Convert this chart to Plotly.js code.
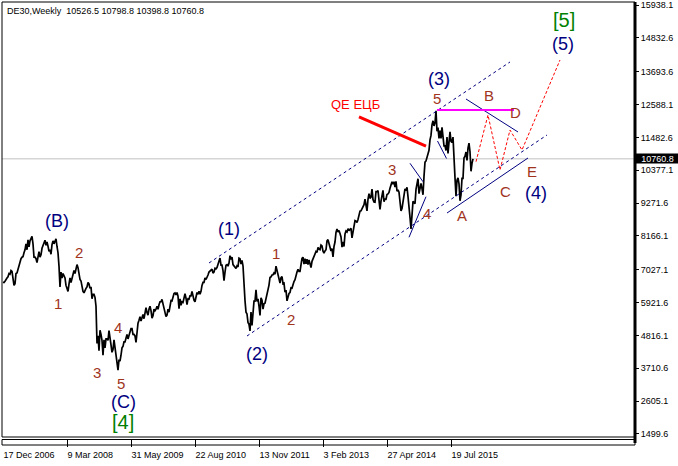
<!DOCTYPE html>
<html><head><meta charset="utf-8">
<script src="https://cdn.plot.ly/plotly-3.0.1.min.js"></script>
<style>html,body{margin:0;padding:0;background:#fff;} #chart{width:678px;height:466px;}</style>
</head><body><div id="chart"></div>
<script>
const symbolTitle = 'DE30,Weekly \u00a010526.5 10798.8 10398.8 10760.8';
const lastPrice = 10760.8;
const tickDates = ['17 Dec 2006','9 Mar 2008','31 May 2009','22 Aug 2010','13 Nov 2011','3 Feb 2013','27 Apr 2014','19 Jul 2015'];
const tickBars = [0, 64, 128, 192, 256, 320, 384, 448];
const priceTicks = [15938.1, 14832.6, 13693.6, 12588.1, 11482.6, 10377.1, 9271.6, 8166.1, 7027.1, 5921.6, 4816.1, 3710.6, 2605.1, 1499.6];

// weekly closes, one per bar, bar 0 = week of 17 Dec 2006
const close2006 = [6610, 6597];
const close2007 = [6640,6730,6750,6790,6900,6880,7000,6970,6640,6500,
  6560,6900,6920,7060,7200,7320,7400,7450,7470,7600,
  7700,7900,7700,8030,7800,8000,8080,8150,7900,7450,
  7450,7400,7270,7560,7640,7450,7530,7750,7860,7950,
  8020,7850,7960,7820,7650,7700,7550,7870,8000,7900,
  8000,8070];
const close2008 = [7810,7600,7150,6450,6950,6750,6900,6800,6750,6500,
  6400,6300,6540,6750,6600,6720,6800,7000,6900,7100,
  7200,7100,6850,6700,6650,6400,6300,6250,6350,6400,
  6450,6600,6550,6400,6450,6050,6200,6200,6100,5800,
  4550,4800,4300,4990,4850,4650,4150,4670,4400,4700,
  4700,4650];
const close2009 = [4980,4800,4500,4250,4340,4670,4450,4200,3850,3650,
  4000,3950,4150,4400,4450,4600,4600,4800,4850,4700,
  4850,4950,5050,5050,4850,4850,4800,4580,5000,5230,
  5330,5450,5300,5450,5520,5380,5550,5750,5590,5500,
  5700,5800,5650,5400,5480,5700,5650,5700,5800,5700,
  5850,5950];
const close2010 = [5950,6030,5880,5700,5600,5450,5500,5700,5600,5880,
  5990,5980,6120,6230,6250,6180,6260,6140,5720,6050,
  5830,5950,5930,6050,6220,6070,5850,6050,6040,6150,
  6150,6300,6110,6000,5950,6150,6260,6200,6300,6200,
  6300,6500,6600,6600,6750,6700,6820,6850,6950,6980,
  7000,7050];
const close2011 = [6914,6950,7080,7060,7100,7220,7370,7420,7180,7180,
  7000,6660,6950,7180,7200,7150,7250,7500,7380,7450,
  7200,7160,7100,7070,7160,7120,7420,7400,7220,7340,
  7160,6240,5990,5600,5540,5250,5190,4970,5600,5150,
  5680,5970,5970,6350,5960,6050,5800,5490,6080,6000,
  5700,5880,5900];
const close2012 = [6060,6140,6400,6510,6770,6790,6850,6860,6920,6880,
  7150,6990,6950,6780,6580,6760,6800,6560,6580,6270,
  6340,5980,6130,6230,6260,6420,6410,6560,6630,6690,
  6870,6950,7040,6970,6970,7210,7410,7450,7220,7400,
  7230,7380,7200,7360,7160,7100,7310,7400,7520,7590,
  7640,7610];
const close2013 = [7780,7720,7700,7860,7830,7650,7590,7660,7700,8000,
  8040,7910,7800,7660,7740,7460,7810,7960,8280,8400,
  8300,8350,8250,8130,7790,7960,7810,8230,8330,8300,
  8410,8340,8390,8420,8100,8280,8510,8680,8660,8620,
  8720,8870,9000,9010,9080,9170,9220,9400,9170,9010,
  9400,9590];
const close2014 = [9430,9470,9740,9390,9310,9300,9660,9660,9690,9350,
  9060,9340,9590,9700,9320,9410,9400,9560,9580,9630,
  9770,9940,9990,9910,9990,9810,10000,9670,9720,9640,
  9210,9010,9090,9340,9470,9750,9690,9800,9490,9200,
  8790,8400,8990,9330,9290,9250,9730,9980,10090,9590,
  9790,9930];
const close2015 = [9760,9550,10170,10650,10690,10850,10960,11050,11400,11550,
  11900,12040,11870,11970,12380,11690,11810,11450,11710,11450,
  11820,11410,11200,11200,11040,11490,10940,11320,11670,11350,
  11310,11490,10990,10120,9500,10040,10120,9920,9350,9550,
  10100,10100,10790,10850,10990,10710,11120,11290,11000,10340,
  10610,10760];

// drawn objects: [bar, price] end points
const upperChannel = [[206, 7255], [507, 14020]];
const lowerChannel = [[244, 4798], [544, 11563]];
const triangleLow = [[444, 8937], [525, 10789]];
const triangleHigh = [[463, 12774], [515, 11664]];
const wedge3 = [[407, 10610], [420, 9991]];
const wedge4 = [[406, 8120], [423, 9486]];
const wedge5 = [[434.5, 11361], [443.5, 10772]];
const topLevel = [[434, 12404], [511, 12404]];
const qeLine = [[356, 12169], [423, 11192]];
const forecastBars = [473, 485, 497, 507, 519, 557];
const forecastPrices = [10664, 12236, 10385, 11731, 11058, 14087];

// labels: text, bar, price, kind
const waveLabels = [
  ['(B)', 54.3, 8678, 'wave'], ['2', 76.3, 7614, 'sub'], ['1', 54.7, 5875, 'sub'],
  ['3', 94.3, 3575, 'sub'], ['4', 115.3, 5090, 'sub'], ['5', 117.7, 3215, 'sub'],
  ['(C)', 120.3, 2590, 'wave'], ['[4]', 120, 1900, 'cycle'],
  ['(1)', 226, 8399, 'wave'], ['1', 273, 7581, 'sub'], ['(2)', 254.3, 4191, 'wave'],
  ['2', 288, 5369, 'sub'], ['3', 389, 10408, 'sub'], ['4', 423.7, 8927, 'sub'],
  ['(3)', 436, 13448, 'wave'], ['5', 433.7, 12798, 'sub'], ['QE ЕЦБ', 352, 12606, 'note'],
  ['B', 486.3, 12909, 'sub'], ['D', 512, 12327, 'sub'], ['[5]', 561, 15433, 'cycle'],
  ['(5)', 560, 14626, 'wave'], ['A', 458.7, 8870, 'sub'], ['C', 502, 9678, 'sub'],
  ['E', 528.7, 10327, 'sub'], ['(4)', 532.7, 9600, 'wave']
];

const closes = [].concat(close2006, close2007, close2008, close2009, close2010,
  close2011, close2012, close2013, close2014, close2015);
const bars = closes.map((_, i) => i);

const NAVY = '#000080', BROWN = '#a0341c', GREEN = '#008000', RED = '#ff0000';
const styles = {
  wave: {color: NAVY, size: 18}, sub: {color: BROWN, size: 15},
  cycle: {color: GREEN, size: 20}, note: {color: RED, size: 13}
};

function seg(pts, color, width, dash) {
  return {type: 'line', xref: 'x', yref: 'y', x0: pts[0][0], y0: pts[0][1], x1: pts[1][0], y1: pts[1][1],
    line: {color: color, width: width, dash: dash || 'solid'}};
}

const PB = 437, AX = 447, TOP = 2, H = AX - TOP;
const py = (pix) => (AX - pix) / H;

const shapes = [
  {type: 'line', xref: 'paper', yref: 'y', x0: 0, x1: 1, y0: lastPrice, y1: lastPrice, layer: 'below',
   line: {color: '#c0c0c0', width: 1}},
  seg(upperChannel, NAVY, 1, '3px,3px'),
  seg(lowerChannel, NAVY, 1, '3px,3px'),
  seg(triangleLow, NAVY, 1), seg(triangleHigh, NAVY, 1),
  seg(wedge3, NAVY, 1), seg(wedge4, NAVY, 1), seg(wedge5, NAVY, 1),
  seg(topLevel, '#ff00ff', 2),
  seg(qeLine, RED, 3),
  {type: 'rect', xref: 'paper', yref: 'paper', x0: 0, x1: 1, y0: py(PB), y1: 1, line: {color: '#000', width: 1}},
  {type: 'rect', xref: 'paper', yref: 'paper', x0: 0, x1: 1, y0: py(445), y1: py(439.5), line: {color: '#000', width: 1}},
  {type: 'line', xref: 'paper', yref: 'paper', x0: 1, x1: 1, y0: py(443), y1: 1, line: {color: '#000', width: 3}}
];

const annotations = waveLabels.map(l => ({
  text: l[0], x: l[1], y: l[2], xref: 'x', yref: 'y', showarrow: false,
  xanchor: 'center', yanchor: 'middle', borderpad: 0,
  font: {family: 'Liberation Sans, Arial, sans-serif', size: styles[l[3]].size, color: styles[l[3]].color}
}));
annotations.push({
  text: lastPrice.toFixed(1), x: 1, xref: 'paper', y: lastPrice, yref: 'y', xanchor: 'left', yanchor: 'middle',
  showarrow: false, bgcolor: '#000', borderpad: 0, width: 43, height: 9, align: 'center',
  font: {family: 'Liberation Sans, Arial, sans-serif', size: 9, color: '#fff'}
});

const traces = [
  {type: 'scatter', mode: 'lines', x: bars, y: closes, line: {color: '#000', width: 1.7}, hoverinfo: 'skip'},
  {type: 'scatter', mode: 'lines', x: forecastBars, y: forecastPrices, line: {color: RED, width: 1, dash: '3px,2px'}, hoverinfo: 'skip'}
];

const layout = {
  width: 678, height: 466,
  margin: {l: 2, r: 43, t: TOP, b: 466 - AX, pad: 0},
  paper_bgcolor: '#fff', plot_bgcolor: '#fff', showlegend: false,
  font: {family: 'Liberation Sans, Arial, sans-serif', size: 9, color: '#000'},
  title: {text: symbolTitle, x: 7 / 678, xanchor: 'left', xref: 'container', y: 1 - 11 / 466, yanchor: 'middle', yref: 'container',
    font: {family: 'Liberation Sans, Arial, sans-serif', size: 9, color: '#000'}},
  xaxis: {range: [-1, 632], showgrid: false, zeroline: false, showline: false, anchor: 'free', position: 0,
    tickmode: 'array', tickvals: tickBars, ticktext: tickDates, ticks: 'inside', ticklen: 7, tickcolor: '#000', tickwidth: 1,
    ticklabelposition: 'outside right', ticklabelstandoff: 1, tickfont: {size: 9, color: '#000'}, fixedrange: true},
  yaxis: {range: [1398.3, 16039.1], domain: [py(PB), 1], side: 'right', showgrid: false, zeroline: false, showline: false,
    tickmode: 'array', tickvals: priceTicks, ticktext: priceTicks.map(v => v.toFixed(1)),
    ticks: 'outside', ticklen: 3, tickcolor: '#000', tickfont: {size: 9, color: '#000'}, fixedrange: true},
  shapes: shapes, annotations: annotations
};

Plotly.newPlot('chart', traces, layout, {staticPlot: true, displayModeBar: false});
</script></body></html>
